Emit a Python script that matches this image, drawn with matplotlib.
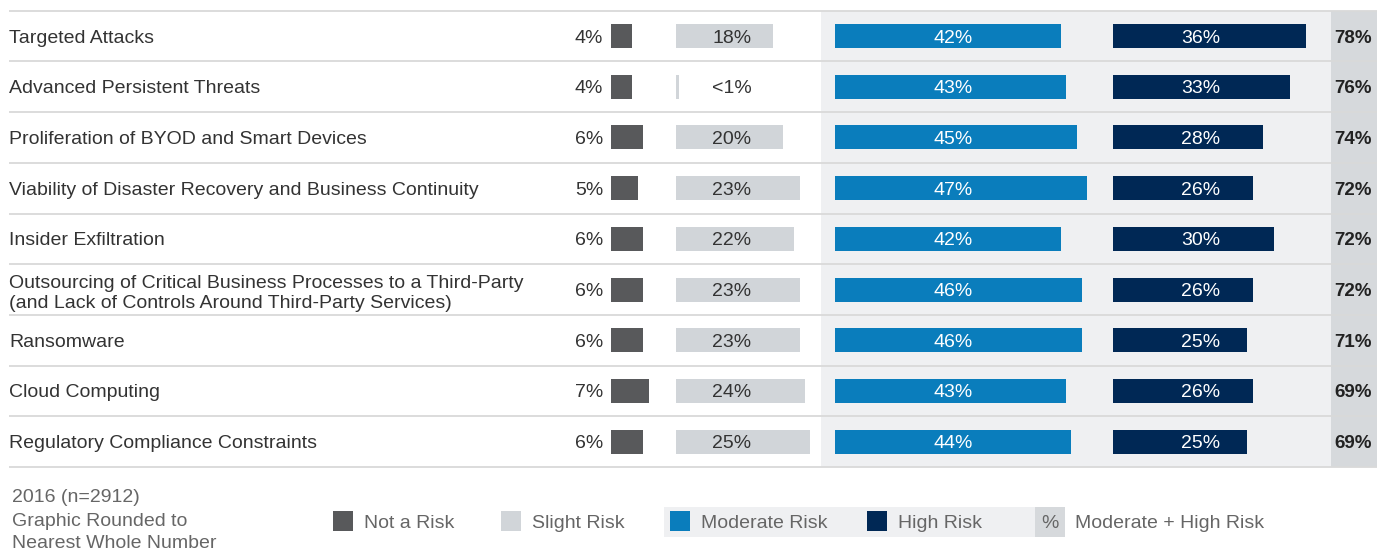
import matplotlib
matplotlib.use("Agg")
import matplotlib.pyplot as plt
from matplotlib.patches import Rectangle
import numpy as np

categories = [
    "Targeted Attacks",
    "Advanced Persistent Threats",
    "Proliferation of BYOD and Smart Devices",
    "Viability of Disaster Recovery and Business Continuity",
    "Insider Exfiltration",
    "Outsourcing of Critical Business Processes to a Third-Party\n(and Lack of Controls Around Third-Party Services)",
    "Ransomware",
    "Cloud Computing",
    "Regulatory Compliance Constraints",
]
not_risk = [4, 4, 6, 5, 6, 6, 6, 7, 6]
slight = [18, 0.5, 20, 23, 22, 23, 23, 24, 25]
slight_labels = ["18%", "<1%", "20%", "23%", "22%", "23%", "23%", "24%", "25%"]
moderate = [42, 43, 45, 47, 42, 46, 46, 43, 44]
high = [36, 33, 28, 26, 30, 26, 25, 26, 25]
mod_high = [78, 76, 74, 72, 72, 72, 71, 69, 69]

legend_labels = ["Not a Risk", "Slight Risk", "Moderate Risk", "High Risk"]
footnote = ["2016 (n=2912)", "Graphic Rounded to", "Nearest Whole Number"]

C_NOT = "#58595b"
C_SLIGHT = "#d1d5d9"
C_MOD = "#0a7dbc"
C_HIGH = "#002855"
C_PANEL = "#eff0f2"
C_TOTAL = "#d6d9dc"
C_LINE = "#d9d9d9"
C_TEXT = "#333333"
C_LEG = "#666666"

plt.rcParams["font.family"] = ["Liberation Sans", "DejaVu Sans"]

fig = plt.figure(figsize=(13.86, 5.51), dpi=100)
ax = fig.add_axes([0, 0, 1, 1])
ax.set_xlim(0, 1386)
ax.set_ylim(551, 0)
ax.axis("off")

# pixel layout
scale = 5.37          # px per percent
top = 10.7
row_h = 50.7
bar_h = 24
n = len(categories)
y = top + (np.arange(n) + 0.5) * row_h

# background panels
ax.add_patch(Rectangle((821, top), 1331 - 821, n * row_h, color=C_PANEL, zorder=0, lw=0))
ax.add_patch(Rectangle((1331, top), 46, n * row_h, color=C_TOTAL, zorder=0, lw=0))

# separators
ax.hlines(top + np.arange(n + 1) * row_h, 9, 1377, color=C_LINE, lw=1.3, zorder=1)

fs = 14
ax.barh(y, np.array(not_risk) * scale, left=611, height=bar_h, color=C_NOT, zorder=2)
ax.barh(y, np.array(slight) * scale, left=676, height=bar_h, color=C_SLIGHT, zorder=2)
ax.barh(y, np.array(moderate) * scale, left=835, height=bar_h, color=C_MOD, zorder=2)
ax.barh(y, np.array(high) * scale, left=1113, height=bar_h, color=C_HIGH, zorder=2)

va = "center_baseline"
for i in range(n):
    ax.text(9, y[i], categories[i], ha="left", va=va, fontsize=fs,
            color=C_TEXT, linespacing=1.25)
    ax.text(603, y[i], f"{not_risk[i]}%", ha="right", va=va, fontsize=fs, color=C_TEXT)
    ax.text(732, y[i], slight_labels[i], ha="center", va=va, fontsize=fs, color=C_TEXT, zorder=3)
    ax.text(953, y[i], f"{moderate[i]}%", ha="center", va=va, fontsize=fs, color="white", zorder=3)
    ax.text(1201, y[i], f"{high[i]}%", ha="center", va=va, fontsize=fs, color="white", zorder=3)
    ax.text(1372, y[i], f"{mod_high[i]}%", ha="right", va=va, fontsize=13.5,
            color="#222222", fontweight="bold")

# legend / footnote
for yy, t in zip([496, 519, 541], footnote):
    ax.text(12, yy, t, ha="left", va=va, fontsize=14, color=C_LEG)

ly = 521
ax.add_patch(Rectangle((664, 507), 1035 - 664, 30, color=C_PANEL, lw=0, zorder=0))
ax.add_patch(Rectangle((1035, 507), 30, 30, color=C_TOTAL, lw=0, zorder=0))
for x0, col, lab in zip([333, 501, 670, 867], [C_NOT, C_SLIGHT, C_MOD, C_HIGH], legend_labels):
    ax.add_patch(Rectangle((x0, ly - 10), 20, 20, color=col, lw=0, zorder=1))
    ax.text(x0 + 31, ly, lab, ha="left", va=va, fontsize=14, color=C_LEG)
ax.text(1050, ly, "%", ha="center", va=va, fontsize=14, color=C_LEG)
ax.text(1075, ly, "Moderate + High Risk", ha="left", va=va, fontsize=14, color=C_LEG)

fig.savefig("out.png", dpi=100)
